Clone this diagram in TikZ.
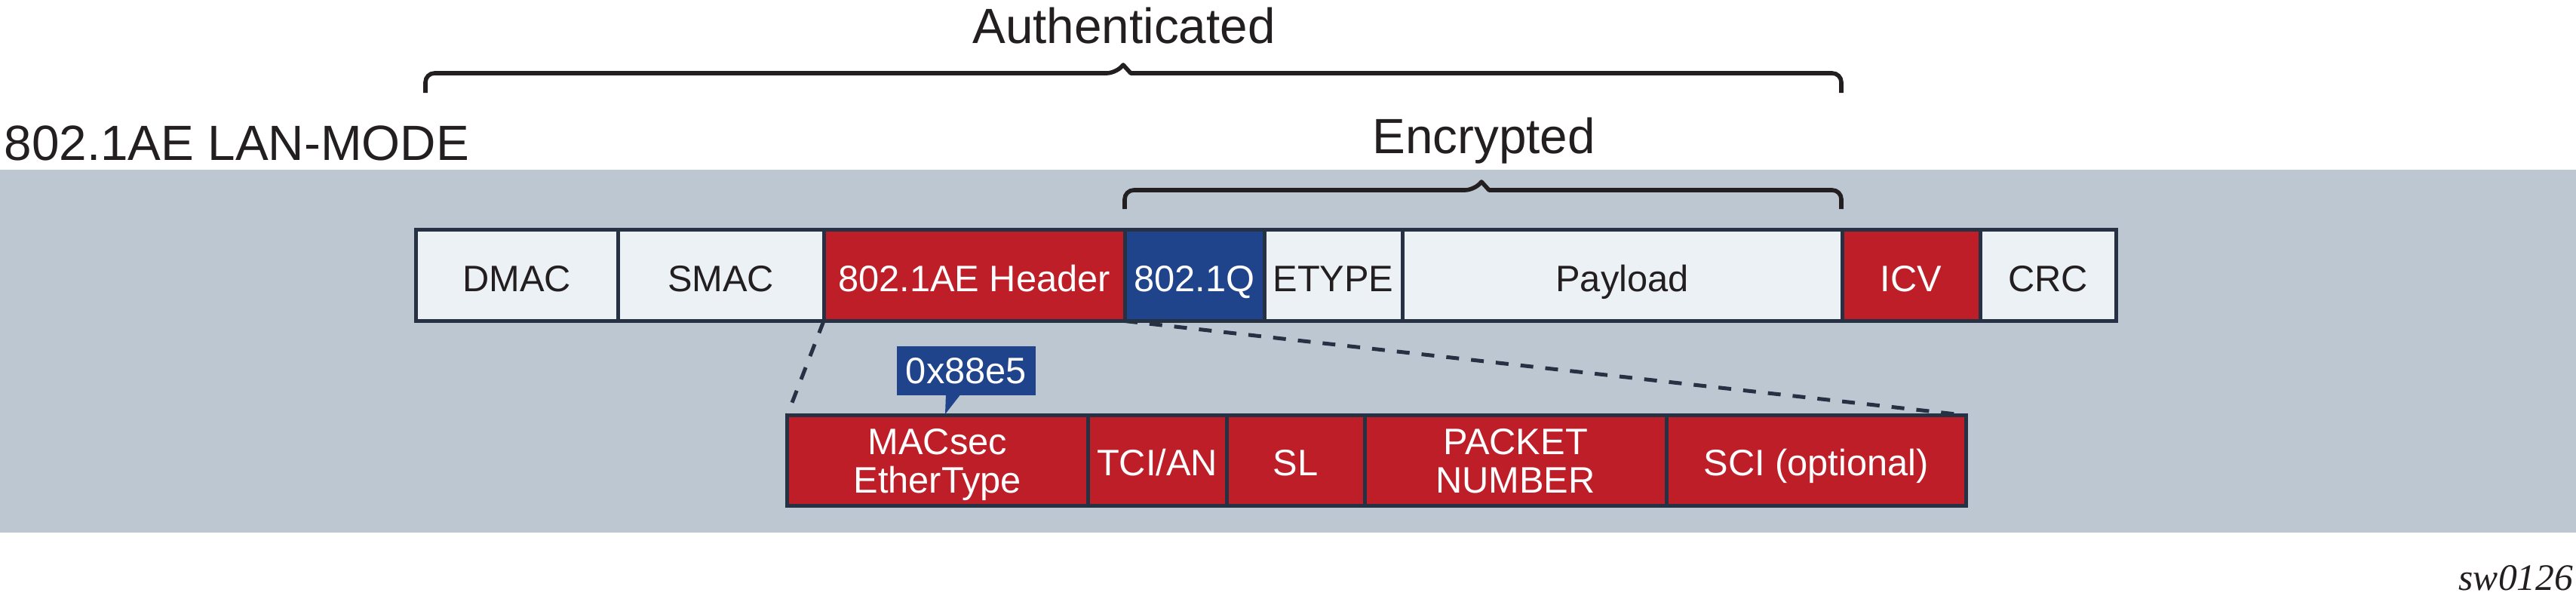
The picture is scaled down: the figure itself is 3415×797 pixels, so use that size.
\documentclass[tikz,border=0pt]{standalone}
\usepackage{fontspec}
\setmainfont{Liberation Sans}
\newfontfamily\serifit{Liberation Serif}
\definecolor{bgC}{RGB}{189,199,209}
\definecolor{lightC}{RGB}{236,241,246}
\definecolor{redC}{RGB}{190,30,39}
\definecolor{blueC}{RGB}{31,68,140}
\definecolor{borderC}{RGB}{38,50,68}
\definecolor{inkC}{RGB}{35,31,32}
\tikzset{
  field/.style={draw=borderC, line width=1.25pt, rectangle, inner sep=0pt, outer sep=0pt,
    font=\fontsize{12.2pt}{12.75pt}\selectfont, align=center},
  toprow/.style={field, minimum height=30.25pt, text height=10.5pt, text depth=0pt},
  subrow/.style={field, minimum height=30pt},
  plainf/.style={fill=lightC, text=inkC},
  redf/.style={fill=redC, text=white},
  bluef/.style={fill=blueC, text=white},
  bracket/.style={draw=inkC, line width=1.4pt, line join=round},
  zoomline/.style={draw=borderC, line width=1.25pt, dash pattern=on 4.25pt off 4pt},
  title/.style={font=\fontsize{16.4pt}{19pt}\selectfont, text=inkC, inner sep=0pt, anchor=base}
}
\begin{document}
\begin{tikzpicture}[x=0.25pt,y=-0.25pt]
\useasboundingbox (0,0) rectangle (3415,797);
% background band
\fill[bgC] (0,225) rectangle (3415,706);
% titles
\node[title] (auth) at (1490,57) {Authenticated};
\node[title] (enc) at (1967,203) {Encrypted};
\node[title, anchor=base west] (mode) at (5,212) {802.1AE LAN-MODE};
% braces
\draw[bracket, rounded corners=3pt] (564,123) -- (564,97) -- (1479,97)
  [sharp corners] -- (1489,86) -- (1499,97)
  [rounded corners=3pt] -- (2441,97) -- (2441,123);
\draw[bracket, rounded corners=3pt] (1491,277) -- (1491,252) -- (1954,252)
  [sharp corners] -- (1964,241) -- (1974,252)
  [rounded corners=3pt] -- (2441,252) -- (2441,277);
% top frame
\node[toprow, plainf, minimum width=66.875pt] (dmac) at (685.25,365) {DMAC};
\node[toprow, plainf, minimum width=68.25pt] (smac) at (955.5,365) {SMAC};
\node[toprow, redf, minimum width=99.75pt] (hdr) at (1291.5,365) {802.1AE Header};
\node[toprow, bluef, minimum width=46.25pt] (dotq) at (1583.5,365) {802.1Q};
\node[toprow, plainf, minimum width=45.75pt] (etype) at (1767.5,365) {ETYPE};
\node[toprow, plainf, minimum width=145.75pt] (pay) at (2150.5,365) {Payload};
\node[toprow, redf, minimum width=45.75pt] (icv) at (2533.5,365) {ICV};
\node[toprow, plainf, minimum width=45.125pt] (crc) at (2715.25,365) {CRC};
% detail row
\node[subrow, redf, minimum width=99.625pt, text depth=0pt] (mac) at (1242.75,610.5) {MACsec\\EtherType};
\node[subrow, redf, minimum width=46pt, text height=9.75pt, text depth=0pt] (tci) at (1534,610.5) {TCI/AN};
\node[subrow, redf, minimum width=45.75pt, text height=9.75pt, text depth=0pt] (sl) at (1717.5,610.5) {SL};
\node[subrow, redf, minimum width=100pt, text depth=0pt] (pn) at (2009,610.5) {PACKET\\NUMBER};
\node[subrow, redf, minimum width=99.375pt, text height=9.75pt, text depth=0pt] (sci) at (2407.75,610.5) {SCI (optional)};
% zoom lines
\draw[zoomline] (hdr.south west) -- (mac.north west);
\draw[zoomline] (hdr.south east) -- (sci.north east);
% callout
\node[fill=blueC, text=white, inner sep=0pt, minimum width=46pt, minimum height=16.25pt,
  text height=8.25pt, text depth=0pt, font=\fontsize{12.2pt}{14pt}\selectfont] (tag) at (1281,491.5) {0x88e5};
\coordinate (tip) at (1253,549);
\fill[blueC] (1254,522) -- (1274,522) -- (tip) -- cycle;
% figure id
\node[font=\serifit\itshape\fontsize{12.4pt}{14pt}\selectfont, text=inkC, inner sep=0pt, anchor=base east] (fid) at (3412,782) {sw0126};
\end{tikzpicture}
\end{document}
